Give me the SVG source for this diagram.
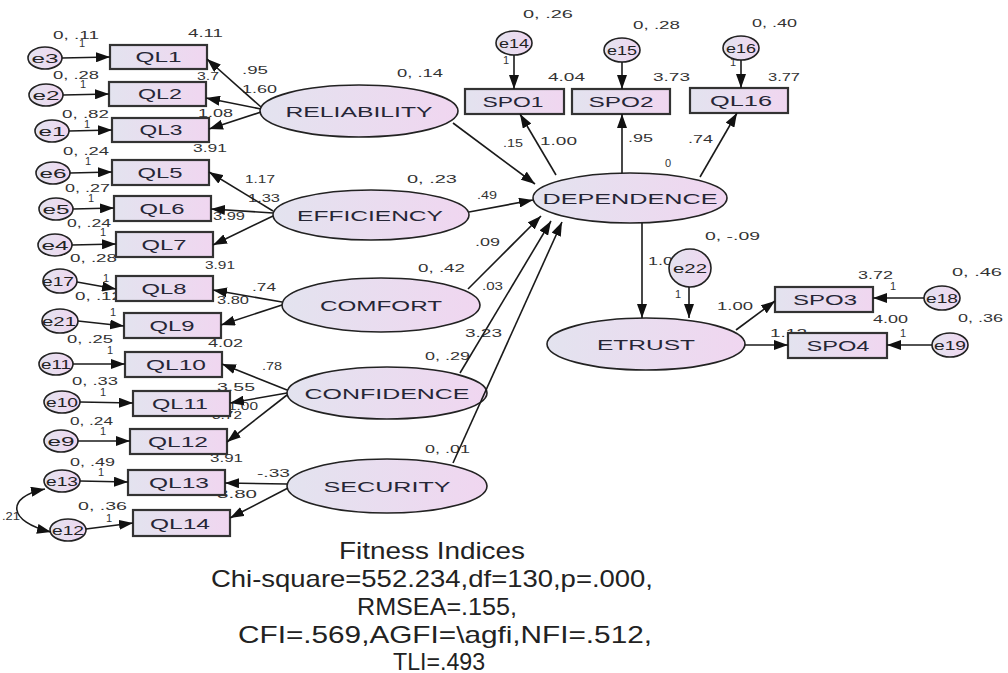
<svg xmlns="http://www.w3.org/2000/svg" width="1008" height="673" viewBox="0 0 1008 673">
<style>
.bx{fill:url(#gf);stroke:#333;stroke-width:2.2}
.el{fill:url(#gf);stroke:#222;stroke-width:1.6}
.er{fill:url(#gf);stroke:#222;stroke-width:1.6}
.tn{font-family:"Liberation Sans",Arial,sans-serif;font-size:14px;fill:#262636;text-anchor:middle}
.tl{font-family:"Liberation Sans",Arial,sans-serif;font-size:15px;fill:#262636;text-anchor:middle}
.te{font-family:"Liberation Sans",Arial,sans-serif;font-size:13px;fill:#222;text-anchor:middle}
.n{font-family:"Liberation Sans",Arial,sans-serif;font-size:11px;fill:#333}
.c{stroke:#1a1a1a;stroke-width:1.6;fill:none;marker-end:url(#a)}
.t{font-family:"Liberation Sans",Arial,sans-serif;font-size:24px;fill:#222;text-anchor:middle}
</style>
<defs>
<linearGradient id="gf" x1="0" y1="0" x2="1" y2="0">
<stop offset="0" stop-color="#e3e3ef"/>
<stop offset="1" stop-color="#f0d6f0"/>
</linearGradient>
<marker id="a" viewBox="0 0 14 10" refX="14" refY="5" markerWidth="14" markerHeight="10" markerUnits="userSpaceOnUse" orient="auto"><path d="M0,0 L14,5 L0,10 z" fill="#111"/></marker>
<marker id="b" viewBox="0 0 14 10" refX="14" refY="5" markerWidth="14" markerHeight="10" markerUnits="userSpaceOnUse" orient="auto-start-reverse"><path d="M0,0 L14,5 L0,10 z" fill="#111"/></marker>
</defs>
<rect width="1008" height="673" fill="#fff"/>

<g id="labels">
<text class="n" x="53" y="39" textLength="46" lengthAdjust="spacingAndGlyphs">0, .11</text>
<text class="n" x="79" y="47">1</text>
<text class="n" x="188" y="37" textLength="35" lengthAdjust="spacingAndGlyphs">4.11</text>
<text class="n" x="53" y="79" textLength="46" lengthAdjust="spacingAndGlyphs">0, .28</text>
<text class="n" x="80" y="88">1</text>
<text class="n" x="197" y="80" textLength="22" lengthAdjust="spacingAndGlyphs">3.7</text>
<text class="n" x="242" y="74" textLength="26" lengthAdjust="spacingAndGlyphs">.95</text>
<text class="n" x="242" y="93" textLength="35" lengthAdjust="spacingAndGlyphs">1.60</text>
<text class="n" x="62" y="118" textLength="47" lengthAdjust="spacingAndGlyphs">0, .82</text>
<text class="n" x="198" y="117" textLength="35" lengthAdjust="spacingAndGlyphs">1.08</text>
<text class="n" x="84" y="128">1</text>
<text class="n" x="63" y="155" textLength="46" lengthAdjust="spacingAndGlyphs">0, .24</text>
<text class="n" x="193" y="152" textLength="34" lengthAdjust="spacingAndGlyphs">3.91</text>
<text class="n" x="85" y="165">1</text>
<text class="n" x="245" y="183" textLength="30" lengthAdjust="spacingAndGlyphs">1.17</text>
<text class="n" x="248" y="202" textLength="32" lengthAdjust="spacingAndGlyphs">1.33</text>
<text class="n" x="65" y="192" textLength="45" lengthAdjust="spacingAndGlyphs">0, .27</text>
<text class="n" x="88" y="202">1</text>
<text class="n" x="213" y="220" textLength="32" lengthAdjust="spacingAndGlyphs">3.99</text>
<text class="n" x="67" y="227" textLength="44" lengthAdjust="spacingAndGlyphs">0, .24</text>
<text class="n" x="100" y="236">1</text>
<text class="n" x="205" y="269" textLength="30" lengthAdjust="spacingAndGlyphs">3.91</text>
<text class="n" x="70" y="262" textLength="47" lengthAdjust="spacingAndGlyphs">0, .28</text>
<text class="n" x="103" y="282">1</text>
<text class="n" x="75" y="300" textLength="47" lengthAdjust="spacingAndGlyphs">0, .12</text>
<text class="n" x="252" y="291" textLength="24" lengthAdjust="spacingAndGlyphs">.74</text>
<text class="n" x="217" y="304" textLength="32" lengthAdjust="spacingAndGlyphs">3.80</text>
<text class="n" x="110" y="316">1</text>
<text class="n" x="208" y="347" textLength="35" lengthAdjust="spacingAndGlyphs">4.02</text>
<text class="n" x="67" y="343" textLength="46" lengthAdjust="spacingAndGlyphs">0, .25</text>
<text class="n" x="107" y="354">1</text>
<text class="n" x="262" y="370" textLength="20" lengthAdjust="spacingAndGlyphs">.78</text>
<text class="n" x="217" y="391" textLength="38" lengthAdjust="spacingAndGlyphs">3.55</text>
<text class="n" x="72" y="385" textLength="46" lengthAdjust="spacingAndGlyphs">0, .33</text>
<text class="n" x="100" y="396">1</text>
<text class="n" x="228" y="410" textLength="30" lengthAdjust="spacingAndGlyphs">1.00</text>
<text class="n" x="212" y="419" textLength="30" lengthAdjust="spacingAndGlyphs">3.72</text>
<text class="n" x="70" y="425" textLength="43" lengthAdjust="spacingAndGlyphs">0, .24</text>
<text class="n" x="100" y="435">1</text>
<text class="n" x="210" y="462" textLength="33" lengthAdjust="spacingAndGlyphs">3.91</text>
<text class="n" x="70" y="466" textLength="45" lengthAdjust="spacingAndGlyphs">0, .49</text>
<text class="n" x="98" y="476">1</text>
<text class="n" x="257" y="477" textLength="33" lengthAdjust="spacingAndGlyphs">-.33</text>
<text class="n" x="217" y="498" textLength="40" lengthAdjust="spacingAndGlyphs">3.80</text>
<text class="n" x="78" y="510" textLength="49" lengthAdjust="spacingAndGlyphs">0, .36</text>
<text class="n" x="106" y="522">1</text>
<text class="n" x="2" y="520" textLength="18" lengthAdjust="spacingAndGlyphs">.21</text>

<text class="n" x="397" y="77" textLength="46" lengthAdjust="spacingAndGlyphs">0, .14</text>
<text class="n" x="407" y="183" textLength="50" lengthAdjust="spacingAndGlyphs">0, .23</text>
<text class="n" x="418" y="272" textLength="47" lengthAdjust="spacingAndGlyphs">0, .42</text>
<text class="n" x="425" y="360" textLength="45" lengthAdjust="spacingAndGlyphs">0, .29</text>
<text class="n" x="425" y="453" textLength="45" lengthAdjust="spacingAndGlyphs">0, .01</text>
<text class="n" x="503" y="147" textLength="20" lengthAdjust="spacingAndGlyphs">.15</text>
<text class="n" x="477" y="199" textLength="20" lengthAdjust="spacingAndGlyphs">.49</text>
<text class="n" x="475" y="246" textLength="25" lengthAdjust="spacingAndGlyphs">.09</text>
<text class="n" x="482" y="290" textLength="21" lengthAdjust="spacingAndGlyphs">.03</text>
<text class="n" x="465" y="337" textLength="37" lengthAdjust="spacingAndGlyphs">3.23</text>

<text class="n" x="523" y="18" textLength="50" lengthAdjust="spacingAndGlyphs">0, .26</text>
<text class="n" x="633" y="29" textLength="47" lengthAdjust="spacingAndGlyphs">0, .28</text>
<text class="n" x="752" y="27" textLength="45" lengthAdjust="spacingAndGlyphs">0, .40</text>
<text class="n" x="548" y="81" textLength="37" lengthAdjust="spacingAndGlyphs">4.04</text>
<text class="n" x="653" y="81" textLength="37" lengthAdjust="spacingAndGlyphs">3.73</text>
<text class="n" x="768" y="81" textLength="32" lengthAdjust="spacingAndGlyphs">3.77</text>
<text class="n" x="503" y="64">1</text>
<text class="n" x="730" y="66">1</text>
<text class="n" x="540" y="145" textLength="37" lengthAdjust="spacingAndGlyphs">1.00</text>
<text class="n" x="628" y="142" textLength="25" lengthAdjust="spacingAndGlyphs">.95</text>
<text class="n" x="688" y="143" textLength="25" lengthAdjust="spacingAndGlyphs">.74</text>
<text class="n" x="665" y="167">0</text>

<text class="n" x="705" y="240" textLength="55" lengthAdjust="spacingAndGlyphs">0, -.09</text>
<text class="n" x="648" y="265" textLength="35" lengthAdjust="spacingAndGlyphs">1.00</text>
<text class="n" x="675" y="298">1</text>
<text class="n" x="858" y="279" textLength="35" lengthAdjust="spacingAndGlyphs">3.72</text>
<text class="n" x="890" y="290">1</text>
<text class="n" x="952" y="276" textLength="50" lengthAdjust="spacingAndGlyphs">0, .46</text>
<text class="n" x="717" y="310" textLength="36" lengthAdjust="spacingAndGlyphs">1.00</text>
<text class="n" x="770" y="337" textLength="37" lengthAdjust="spacingAndGlyphs">1.12</text>
<text class="n" x="873" y="323" textLength="35" lengthAdjust="spacingAndGlyphs">4.00</text>
<text class="n" x="900" y="337">1</text>
<text class="n" x="958" y="322" textLength="45" lengthAdjust="spacingAndGlyphs">0, .36</text>
</g>

<g id="QL1"><rect class="bx" x="110" y="45" width="97" height="24"/><text class="tn" x="158.5" y="62" textLength="46" lengthAdjust="spacingAndGlyphs">QL1</text></g>
<g id="QL2"><rect class="bx" x="109" y="82" width="97" height="24"/><text class="tn" x="160" y="99" textLength="44" lengthAdjust="spacingAndGlyphs">QL2</text></g>
<g id="QL3"><rect class="bx" x="112" y="118" width="97" height="24"/><text class="tn" x="161" y="135" textLength="43" lengthAdjust="spacingAndGlyphs">QL3</text></g>
<g id="QL5"><rect class="bx" x="112" y="160" width="97" height="25"/><text class="tn" x="160" y="178" textLength="45" lengthAdjust="spacingAndGlyphs">QL5</text></g>
<g id="QL6"><rect class="bx" x="114" y="196" width="97" height="25"/><text class="tn" x="162" y="214" textLength="45" lengthAdjust="spacingAndGlyphs">QL6</text></g>
<g id="QL7"><rect class="bx" x="116" y="232" width="97" height="25"/><text class="tn" x="164" y="250" textLength="45" lengthAdjust="spacingAndGlyphs">QL7</text></g>
<g id="QL8"><rect class="bx" x="116" y="276" width="97" height="25"/><text class="tn" x="164" y="294" textLength="45" lengthAdjust="spacingAndGlyphs">QL8</text></g>
<g id="QL9"><rect class="bx" x="124" y="313" width="97" height="25"/><text class="tn" x="172" y="331" textLength="45" lengthAdjust="spacingAndGlyphs">QL9</text></g>
<g id="QL10"><rect class="bx" x="125" y="352" width="97" height="25"/><text class="tn" x="176" y="370" textLength="60" lengthAdjust="spacingAndGlyphs">QL10</text></g>
<g id="QL11"><rect class="bx" x="133" y="391" width="97" height="25"/><text class="tn" x="180" y="409" textLength="56" lengthAdjust="spacingAndGlyphs">QL11</text></g>
<g id="QL12"><rect class="bx" x="130" y="429" width="97" height="25"/><text class="tn" x="178" y="447" textLength="60" lengthAdjust="spacingAndGlyphs">QL12</text></g>
<g id="QL13"><rect class="bx" x="128" y="470" width="97" height="25"/><text class="tn" x="179" y="488" textLength="60" lengthAdjust="spacingAndGlyphs">QL13</text></g>
<g id="QL14"><rect class="bx" x="133" y="510" width="97" height="26"/><text class="tn" x="180" y="529" textLength="60" lengthAdjust="spacingAndGlyphs">QL14</text></g>

<g id="SPO1"><rect class="bx" x="465" y="89" width="99" height="25"/><text class="tn" x="513" y="107" textLength="61" lengthAdjust="spacingAndGlyphs">SPO1</text></g>
<g id="SPO2"><rect class="bx" x="572" y="89" width="98" height="25"/><text class="tn" x="621" y="107" textLength="65" lengthAdjust="spacingAndGlyphs">SPO2</text></g>
<g id="QL16"><rect class="bx" x="690" y="88" width="98" height="25"/><text class="tn" x="741" y="106" textLength="62" lengthAdjust="spacingAndGlyphs">QL16</text></g>
<g id="SPO3"><rect class="bx" x="775" y="287" width="98" height="25"/><text class="tn" x="825" y="305" textLength="64" lengthAdjust="spacingAndGlyphs">SPO3</text></g>
<g id="SPO4"><rect class="bx" x="788" y="333" width="99" height="25"/><text class="tn" x="838" y="351" textLength="63" lengthAdjust="spacingAndGlyphs">SPO4</text></g>

<g id="RELIABILITY"><ellipse class="el" cx="359" cy="111" rx="99" ry="26"/><text class="tl" x="359" y="117" textLength="147" lengthAdjust="spacingAndGlyphs">RELIABILITY</text></g>
<g id="EFFICIENCY"><ellipse class="el" cx="371" cy="215" rx="98" ry="25"/><text class="tl" x="370" y="221" textLength="146" lengthAdjust="spacingAndGlyphs">EFFICIENCY</text></g>
<g id="COMFORT"><ellipse class="el" cx="381" cy="305" rx="99" ry="27"/><text class="tl" x="381" y="311" textLength="122" lengthAdjust="spacingAndGlyphs">COMFORT</text></g>
<g id="CONFIDENCE"><ellipse class="el" cx="387" cy="393" rx="100" ry="26"/><text class="tl" x="387" y="399" textLength="165" lengthAdjust="spacingAndGlyphs">CONFIDENCE</text></g>
<g id="SECURITY"><ellipse class="el" cx="387" cy="486" rx="100" ry="27"/><text class="tl" x="387" y="492" textLength="127" lengthAdjust="spacingAndGlyphs">SECURITY</text></g>
<g id="DEPENDENCE"><ellipse class="el" cx="630" cy="198" rx="97" ry="25"/><text class="tl" x="630" y="204" textLength="175" lengthAdjust="spacingAndGlyphs">DEPENDENCE</text></g>
<g id="ETRUST"><ellipse class="el" cx="646" cy="344" rx="99" ry="26"/><text class="tl" x="646" y="350" textLength="98" lengthAdjust="spacingAndGlyphs">ETRUST</text></g>

<g id="e3"><ellipse class="er" cx="45" cy="58" rx="17" ry="11"/><text class="te" x="45" y="63" textLength="27" lengthAdjust="spacingAndGlyphs">e3</text></g>
<g id="e2"><ellipse class="er" cx="46" cy="95" rx="17" ry="11"/><text class="te" x="46" y="100" textLength="27" lengthAdjust="spacingAndGlyphs">e2</text></g>
<g id="e1"><ellipse class="er" cx="52" cy="131" rx="17" ry="11"/><text class="te" x="52" y="136" textLength="27" lengthAdjust="spacingAndGlyphs">e1</text></g>
<g id="e6"><ellipse class="er" cx="53" cy="173" rx="17" ry="11"/><text class="te" x="53" y="178" textLength="27" lengthAdjust="spacingAndGlyphs">e6</text></g>
<g id="e5"><ellipse class="er" cx="56" cy="209" rx="17" ry="11"/><text class="te" x="56" y="214" textLength="27" lengthAdjust="spacingAndGlyphs">e5</text></g>
<g id="e4"><ellipse class="er" cx="55" cy="245" rx="17" ry="11"/><text class="te" x="55" y="250" textLength="27" lengthAdjust="spacingAndGlyphs">e4</text></g>
<g id="e17"><ellipse class="er" cx="60" cy="281" rx="17" ry="12"/><text class="te" x="58" y="286" textLength="32" lengthAdjust="spacingAndGlyphs">e17</text></g>
<g id="e21"><ellipse class="er" cx="60" cy="321" rx="18" ry="12"/><text class="te" x="59" y="326" textLength="34" lengthAdjust="spacingAndGlyphs">e21</text></g>
<g id="e11"><ellipse class="er" cx="56" cy="364" rx="17" ry="11"/><text class="te" x="56" y="369" textLength="30" lengthAdjust="spacingAndGlyphs">e11</text></g>
<g id="e10"><ellipse class="er" cx="62" cy="402" rx="18" ry="11"/><text class="te" x="62" y="407" textLength="32" lengthAdjust="spacingAndGlyphs">e10</text></g>
<g id="e9"><ellipse class="er" cx="61" cy="441" rx="17" ry="11"/><text class="te" x="61" y="446" textLength="27" lengthAdjust="spacingAndGlyphs">e9</text></g>
<g id="e13"><ellipse class="er" cx="62" cy="481" rx="18" ry="11"/><text class="te" x="62" y="486" textLength="32" lengthAdjust="spacingAndGlyphs">e13</text></g>
<g id="e12"><ellipse class="er" cx="68" cy="530" rx="18" ry="11"/><text class="te" x="68" y="535" textLength="32" lengthAdjust="spacingAndGlyphs">e12</text></g>
<g id="e14"><ellipse class="er" cx="514" cy="43" rx="18" ry="12"/><text class="te" x="514" y="48" textLength="30" lengthAdjust="spacingAndGlyphs">e14</text></g>
<g id="e15"><ellipse class="er" cx="622" cy="50" rx="18" ry="12"/><text class="te" x="622" y="55" textLength="30" lengthAdjust="spacingAndGlyphs">e15</text></g>
<g id="e16"><ellipse class="er" cx="741" cy="48" rx="18" ry="12"/><text class="te" x="741" y="53" textLength="30" lengthAdjust="spacingAndGlyphs">e16</text></g>
<g id="e22"><ellipse class="er" cx="690" cy="268" rx="21" ry="19"/><text class="te" x="690" y="273" textLength="34" lengthAdjust="spacingAndGlyphs">e22</text></g>
<g id="e18"><ellipse class="er" cx="942" cy="298" rx="18" ry="12"/><text class="te" x="942" y="303" textLength="32" lengthAdjust="spacingAndGlyphs">e18</text></g>
<g id="e19"><ellipse class="er" cx="950" cy="345" rx="18" ry="12"/><text class="te" x="950" y="350" textLength="32" lengthAdjust="spacingAndGlyphs">e19</text></g>

<g id="connectors">
<line class="c" x1="62" y1="58" x2="110" y2="57"/>
<line class="c" x1="63" y1="95" x2="109" y2="94"/>
<line class="c" x1="69" y1="131" x2="112" y2="130"/>
<line class="c" x1="70" y1="173" x2="112" y2="172"/>
<line class="c" x1="73" y1="209" x2="114" y2="208"/>
<line class="c" x1="72" y1="245" x2="116" y2="244"/>
<line class="c" x1="77" y1="282" x2="116" y2="289"/>
<line class="c" x1="78" y1="321" x2="124" y2="326"/>
<line class="c" x1="73" y1="364" x2="125" y2="364"/>
<line class="c" x1="80" y1="402" x2="133" y2="403"/>
<line class="c" x1="78" y1="441" x2="130" y2="441"/>
<line class="c" x1="80" y1="481" x2="128" y2="482"/>
<line class="c" x1="86" y1="529" x2="133" y2="523"/>
<path d="M45,489 C5,497 8,522 51,532" stroke="#1a1a1a" stroke-width="1.6" fill="none" marker-start="url(#b)" marker-end="url(#b)"/>

<line class="c" x1="261" y1="107" x2="207" y2="59"/>
<line class="c" x1="261" y1="109" x2="206" y2="98"/>
<line class="c" x1="261" y1="112" x2="209" y2="129"/>
<line class="c" x1="273" y1="211" x2="209" y2="172"/>
<line class="c" x1="273" y1="213" x2="211" y2="209"/>
<line class="c" x1="273" y1="216" x2="213" y2="245"/>
<line class="c" x1="282" y1="302" x2="213" y2="290"/>
<line class="c" x1="282" y1="305" x2="221" y2="325"/>
<line class="c" x1="287" y1="390" x2="222" y2="364"/>
<line class="c" x1="287" y1="393" x2="230" y2="403"/>
<line class="c" x1="287" y1="395" x2="227" y2="442"/>
<line class="c" x1="287" y1="484" x2="225" y2="483"/>
<line class="c" x1="288" y1="488" x2="230" y2="518"/>

<line class="c" x1="453" y1="123" x2="535" y2="184"/>
<line class="c" x1="469" y1="212" x2="533" y2="200"/>
<line class="c" x1="468" y1="289" x2="541" y2="216"/>
<line class="c" x1="460" y1="373" x2="551" y2="221"/>
<line class="c" x1="453" y1="463" x2="562" y2="222"/>

<line class="c" x1="556" y1="175" x2="520" y2="114"/>
<line class="c" x1="622" y1="173" x2="622" y2="114"/>
<line class="c" x1="700" y1="177" x2="737" y2="113"/>
<line class="c" x1="514" y1="55" x2="514" y2="89"/>
<line class="c" x1="622" y1="62" x2="622" y2="89"/>
<line class="c" x1="741" y1="60" x2="741" y2="88"/>

<line class="c" x1="642" y1="223" x2="642" y2="318"/>
<line class="c" x1="689" y1="287" x2="689" y2="318"/>
<line class="c" x1="736" y1="330" x2="775" y2="301"/>
<line class="c" x1="745" y1="345" x2="788" y2="345"/>
<line class="c" x1="924" y1="298" x2="873" y2="298"/>
<line class="c" x1="932" y1="345" x2="887" y2="345"/>
</g>

<g id="fit">
<text class="t" x="432" y="559" textLength="186" lengthAdjust="spacingAndGlyphs">Fitness Indices</text>
<text class="t" x="432" y="587" textLength="442" lengthAdjust="spacingAndGlyphs">Chi-square=552.234,df=130,p=.000,</text>
<text class="t" x="437" y="615" textLength="160" lengthAdjust="spacingAndGlyphs">RMSEA=.155,</text>
<text class="t" x="445" y="643" textLength="414" lengthAdjust="spacingAndGlyphs">CFI=.569,AGFI=\agfi,NFI=.512,</text>
<text class="t" x="439" y="670" textLength="92" lengthAdjust="spacingAndGlyphs">TLI=.493</text>
</g>
</svg>
